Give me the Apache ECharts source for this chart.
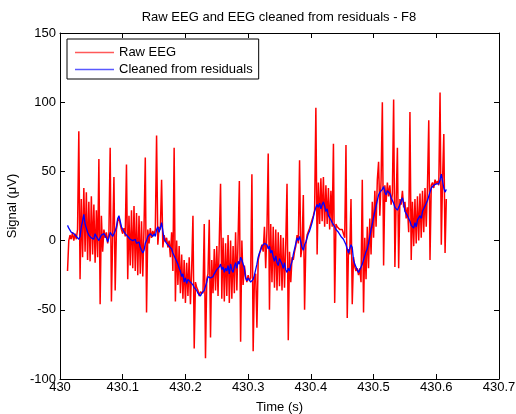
<!DOCTYPE html>
<html>
<head>
<meta charset="utf-8">
<script src="https://cdn.jsdelivr.net/npm/echarts@6/dist/echarts.min.js"></script>
<style>
  html, body { margin: 0; padding: 0; background: #fff; }
  #chart { width: 516px; height: 414px; }
</style>
</head>
<body>
<div id="chart"></div>
<script>
// Sampled signals, F8 channel (µV), one value every 2 ms from 430.012 s
const timeStart = 430.012;
const sampleStep = 0.002;

const rawEeg = [
  -22, 0, 4, 1, 6, 0, 5, 1, 8, 79,
  -28, 30, -12, 38, -8, 35, -14, 28, -15, 32,
  -10, 26, -16, 22, -12, 59, -46, 18, -8, 8,
  2, 6, -2, 5, 67, -44, 3, 46, -36, 8,
  14, 17, 12, 8, 5, 9, 3, 55, -28, 18,
  -18, 22, -20, 25, -22, 20, -25, 18, -24, 14,
  -26, 10, 60, -52, 8, -2, 9, 2, 7, 4,
  8, 76, -3, 10, 8, 44, -5, 4, -1, 2,
  -5, 0, -12, 6, -22, 67, -44, 0, -32, -4,
  -38, -10, -42, -14, -45, -16, -40, -12, -46, -20,
  18, -78, -30, -34, -36, -40, -37, -36, -38, 12,
  -85, -28, -24, 15, -70, -14, -38, -6, -36, -4,
  -40, 0, 41, -42, 2, -44, -2, -40, 4, -45,
  0, -42, -4, -38, 6, -36, 2, 43, -73, 0,
  -32, -18, -26, -30, -25, -29, -27, 48, -80, -27,
  -24, -63, -14, -10, -6, -3, -8, 10, -20, 8,
  63, -50, 12, -30, 10, -34, 8, -36, 6, -33,
  4, -36, 2, -34, -2, 41, -72, -8, -30, -12,
  -14, -8, -4, 4, -2, 58, -12, -4, 33, -50,
  -3, 4, 3, 9, 8, 15, 18, 22, 96, -10,
  42, 12, 45, 14, 46, 10, 40, 12, 38, 8,
  36, 10, 70, -45, 12, 10, 9, 8, 7, 8,
  5, 2, 69, -56, -6, -10, 30, -46, -12, -19,
  -22, -20, -25, -20, -30, 44, -52, 2, -28, 10,
  -20, 16, -10, 28, 2, 36, 10, 44, 57, 18,
  44, 100, -18, 40, 28, 42, 32, 40, 26, 34,
  102, -19, 28, 67, -20, 30, 26, 36, 24, 28,
  16, 24, 6, 93, -14, 28, -4, 30, -2, 32,
  0, 34, 2, 36, 6, 38, 10, 40, 87, -14,
  40, 42, 38, 44, 41, 43, 40, 107, -3, 44,
  77, -9, 30
];

const cleanedEeg = [
  11, 9, 8, 6, 7, 5, 6, 3, 2, 1,
  3, 10, 14, 19, 12, 9, 6, 4, 5, 2,
  3, 1, 5, 3, 2, 0, 1, 4, 3, 5,
  4, 2, -1, 2, 6, 5, 3, 4, 7, 10,
  16, 18, 14, 10, 8, 7, 5, 4, 3, 3,
  1, 2, 0, -1, 1, -2, -3, -1, -5, -6,
  -9, -7, -2, 0, 3, 2, 5, 4, 3, 5,
  3, 8, 10, 6, 9, 13, 7, 1, 0, -2,
  -2, -4, -3, -6, -9, -8, -13, -15, -17, -20,
  -22, -26, -24, -30, -27, -31, -28, -27, -30, -31,
  -32, -34, -33, -36, -38, -39, -40, -38, -39, -36,
  -33, -30, -26, -25, -27, -28, -26, -24, -25, -21,
  -20, -19, -17, -21, -19, -23, -20, -22, -18, -24,
  -17, -21, -23, -19, -16, -20, -15, -17, -12, -14,
  -15, -20, -27, -29, -27, -28, -30, -31, -28, -25,
  -21, -17, -12, -9, -7, -4, -5, -2, -1, -3,
  -6, -4, -9, -7, -12, -15, -11, -16, -18, -13,
  -14, -17, -20, -16, -21, -23, -20, -22, -18, -15,
  -10, -6, -2, 2, 0, 3, -1, -5, -7, -3,
  -1, 2, 5, 7, 10, 13, 17, 21, 24, 26,
  24, 27, 23, 26, 28, 25, 21, 23, 18, 17,
  15, 13, 14, 10, 8, 9, 6, 5, 3, 4,
  1, -1, -3, -6, -9, -8, -3, -5, -14, -17,
  -19, -21, -23, -22, -19, -17, -14, -11, -8, -6,
  -2, 3, 8, 12, 17, 21, 25, 29, 33, 35,
  34, 37, 39, 35, 33, 36, 37, 34, 31, 30,
  27, 24, 23, 22, 24, 26, 29, 31, 27, 21,
  20, 18, 17, 14, 11, 12, 9, 13, 10, 15,
  14, 18, 16, 21, 20, 25, 24, 29, 32, 35,
  38, 39, 40, 39, 41, 40, 41, 44, 48, 43,
  38, 35, 37
];

const seriesNames = ['Raw EEG', 'Cleaned from residuals'];
const xRange = [430, 430.7, 0.1];
const yRange = [-100, 150, 50];

const fontFamily = '"Liberation Sans", Arial, sans-serif';

const toPairs = vals => vals.map((v, i) => [timeStart + i * sampleStep, v]);

const axisLine = { show: true, onZero: false, lineStyle: { color: '#000', width: 1 } };
const axisTick = { show: true, inside: true, length: 5, lineStyle: { color: '#000' } };
const labelStyle = { color: '#000', fontSize: 13, fontFamily: fontFamily };

const xBase = { type: 'value', min: xRange[0], max: xRange[1], interval: xRange[2],
  axisLine: axisLine, axisTick: axisTick, splitLine: { show: false } };
const yBase = { type: 'value', min: yRange[0], max: yRange[1], interval: yRange[2],
  axisLine: axisLine, axisTick: axisTick, splitLine: { show: false } };

const myChart = echarts.init(document.getElementById('chart'));

const option = {
  animation: false,
  backgroundColor: '#fff',
  title: {
    text: 'Raw EEG and EEG cleaned from residuals - F8',
    left: 279, top: 11, textAlign: 'center', padding: 0,
    textStyle: { fontSize: 13, fontWeight: 'normal', color: '#000', fontFamily: fontFamily }
  },
  legend: {
    data: seriesNames,
    orient: 'vertical',
    left: 67, top: 39,
    padding: [7, 6, 3, 8],
    itemGap: 4,
    itemWidth: 39,
    itemHeight: 1.5,
    icon: 'rect',
    itemStyle: { opacity: 0.65 },
    borderColor: '#000', borderWidth: 1, backgroundColor: '#fff',
    textStyle: labelStyle
  },
  grid: { left: 60, right: 17, top: 33, bottom: 35, containLabel: false, outerBoundsMode: 'none' },
  xAxis: [
    Object.assign({}, xBase, {
      position: 'bottom',
      name: 'Time (s)', nameLocation: 'middle', nameGap: 22,
      nameTextStyle: labelStyle,
      axisLabel: Object.assign({ margin: 2, formatter: v => String(+v.toFixed(1)) }, labelStyle)
    }),
    Object.assign({}, xBase, { position: 'top', axisLabel: { show: false } })
  ],
  yAxis: [
    Object.assign({}, yBase, {
      position: 'left',
      name: 'Signal (\u03bcV)', nameLocation: 'middle', nameGap: 30,
      nameTextStyle: labelStyle,
      axisLabel: Object.assign({ margin: 4 }, labelStyle)
    }),
    Object.assign({}, yBase, { position: 'right', axisLabel: { show: false } })
  ],
  series: [
    {
      name: seriesNames[0], type: 'line', data: toPairs(rawEeg),
      symbol: 'none', color: '#ff0000', lineStyle: { width: 1.5, color: '#ff0000' },
      silent: true
    },
    {
      name: seriesNames[1], type: 'line', data: toPairs(cleanedEeg),
      symbol: 'none', color: '#0000ff', lineStyle: { width: 1.3, color: '#0000ff' },
      silent: true
    }
  ]
};

myChart.setOption(option);
</script>
</body>
</html>
